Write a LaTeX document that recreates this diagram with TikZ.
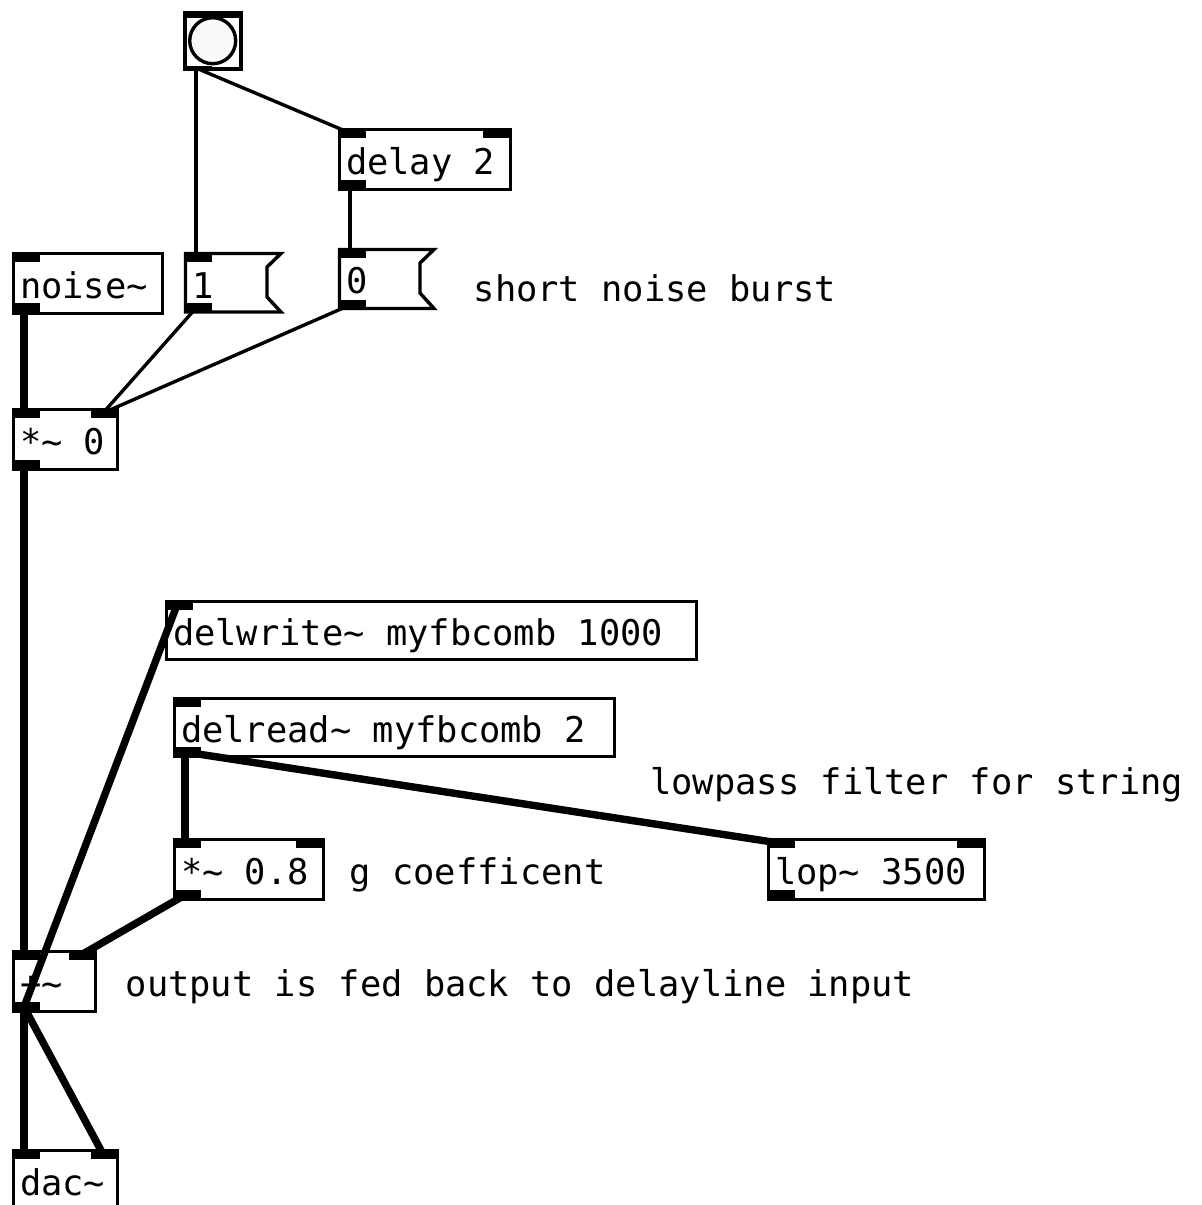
\documentclass[tikz,border=0pt]{standalone}
\usepackage{fontspec}
\setmonofont{DejaVu Sans Mono}
\tikzset{
    patch/.style={font=\ttfamily\fontsize{35.4}{40}\selectfont},
    obj/.style={patch, draw, line width=3.4pt, fill=white, anchor=north west, align=flush left, inner xsep=6.5pt, inner ysep=0pt, outer sep=0pt, minimum height=60pt, text height=30pt, text depth=0pt},
    msg/.style={obj, draw=none, fill=none},
    port/.style={fill=black, anchor=north west, inner sep=0pt, outer sep=0pt, minimum width=28pt, minimum height=10pt},
    note/.style={patch, anchor=base west, inner sep=0pt},
    ctl/.style={line width=3.4pt, to path={([xshift=-2pt]\tikztostart.center) -- ([xshift=-2pt]\tikztotarget.center)}},
    sig/.style={ctl, line width=7.4pt},
    flag/.style={line width=3.4pt, fill=white},
}
\begin{document}
\begin{tikzpicture}[x=1pt, y=-1pt]
    \useasboundingbox (0, 0) rectangle (1202, 1205);
    % bang
    \node[draw, line width=3.4pt, minimum size=56pt, inner sep=0pt, outer sep=0pt] (bang) at (213, 41) {};
    \node[draw, line width=3.4pt, circle, fill=black!2, minimum size=46pt, inner sep=0pt] (bangDot) at (212.7, 40.7) {};
    \node[port, minimum width=58pt, minimum height=6pt] (bangIn) at (184, 12) {};
    \node[port, minimum height=4pt] (bangOut) at (184, 66) {};
    % messages
    \draw[flag] (185.5, 253.5) -- (281, 253.5) -- (267, 267) -- (267, 297) -- (281, 312) -- (185.5, 312) -- cycle;
    \draw[flag] (339.5, 249.5) -- (434, 249.5) -- (420, 263) -- (420, 293) -- (434, 308.5) -- (339.5, 308.5) -- cycle;
    \node[msg, text width=54pt] (msgOne) at (185.5, 253.5) {1};
    \node[msg, text width=54pt, minimum height=58pt] (msgZero) at (339.5, 249.5) {0};
    % objects
    \node[obj, text width=158pt] (delay) at (339.5, 129.5) {delay 2};
    \node[obj, text width=136pt] (noise) at (13.5, 253.5) {noise\string~};
    \node[obj, text width=91pt] (mulIn) at (13.5, 409.5) {*\string~{} 0};
    \node[obj, text width=517pt, minimum height=58pt] (delwrite) at (166.5, 601.5) {delwrite\string~{} myfbcomb 1000};
    \node[obj, text width=427pt, minimum height=58pt] (delread) at (174.5, 698.5) {delread\string~{} myfbcomb 2};
    \node[obj, text width=136pt] (mulG) at (174.5, 839.5) {*\string~{} 0.8};
    \node[obj, text width=203pt] (lop) at (768.5, 839.5) {lop\string~{} 3500};
    \node[obj, text width=69pt] (add) at (13.5, 951.5) {+\string~};
    \node[obj, text width=91pt] (dac) at (13.5, 1150.5) {dac\string~};
    % inlets and outlets
    \node[port] (delayIn) at (338, 128) {};
    \node[port] (delayInR) at (483, 128) {};
    \node[port] (delayOut) at (338, 180) {};
    \node[port] (oneIn) at (184, 252) {};
    \node[port] (oneOut) at (184, 303) {};
    \node[port] (zeroIn) at (338, 248) {};
    \node[port] (zeroOut) at (338, 300) {};
    \node[port] (noiseIn) at (12, 252) {};
    \node[port] (noiseOut) at (12, 303) {};
    \node[port] (mulInL) at (12, 408) {};
    \node[port] (mulInR) at (91, 408) {};
    \node[port] (mulOut) at (12, 460) {};
    \node[port] (writeIn) at (165, 600) {};
    \node[port] (readIn) at (173, 697) {};
    \node[port] (readOut) at (173, 747) {};
    \node[port] (gInL) at (173, 838) {};
    \node[port] (gInR) at (296, 838) {};
    \node[port] (gOut) at (173, 890) {};
    \node[port] (lopIn) at (767, 838) {};
    \node[port] (lopInR) at (957, 838) {};
    \node[port] (lopOut) at (767, 890) {};
    \node[port] (addInL) at (12, 950) {};
    \node[port] (addInR) at (69, 950) {};
    \node[port] (addOut) at (12, 1002) {};
    \node[port] (dacInL) at (12, 1149) {};
    \node[port] (dacInR) at (91, 1149) {};
    % control wires
    \draw[ctl] (bangOut) to (oneIn);
    \draw[ctl] (bangOut) to (delayIn);
    \draw[ctl] (delayOut) to (zeroIn);
    \draw[ctl] (oneOut) to (mulInR);
    \draw[ctl] (zeroOut) to (mulInR);
    % signal wires
    \draw[sig] (noiseOut) to (mulInL);
    \draw[sig] (mulOut) to (addInL);
    \draw[sig] (addOut) to (writeIn);
    \draw[sig] (readOut) to (gInL);
    \draw[sig] (readOut) to (lopIn);
    \draw[sig] (gOut) to (addInR);
    \draw[sig] (addOut) to (dacInL);
    \draw[sig] (addOut) to (dacInR);
    % comments
    \node[note] (burstNote) at (473.5, 301) {short noise burst};
    \node[note] (lopNote) at (650, 794) {lowpass filter for string};
    \node[note] (gNote) at (349.5, 884) {g coefficent};
    \node[note] (backNote) at (125.5, 996) {output is fed back to delayline input};
\end{tikzpicture}
\end{document}
